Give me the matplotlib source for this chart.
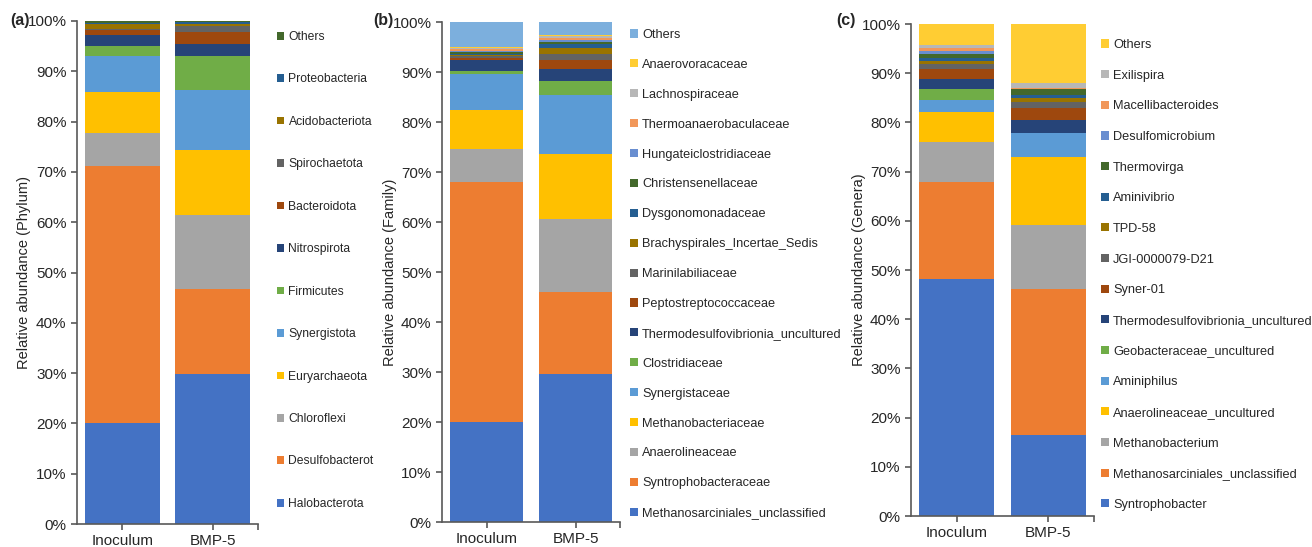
import matplotlib
matplotlib.use("Agg")
import matplotlib.pyplot as plt
from matplotlib.patches import Patch
from matplotlib.ticker import PercentFormatter
import numpy as np

plt.rcParams['font.family'] = ['Liberation Sans', 'DejaVu Sans']

samples = ["Inoculum", "BMP-5"]

# office-style palette, in stacking order
palette = ["#4472C4", "#ED7D31", "#A5A5A5", "#FFC000", "#5B9BD5", "#70AD47",
           "#264478", "#9E480E", "#636363", "#997300", "#255E91", "#43682B",
           "#698ED0", "#F1975A", "#B7B7B7", "#FFCD33", "#7CAFDD"]

# (a) phylum level, bottom to top
phylum_names = ["Halobacterota", "Desulfobacterot", "Chloroflexi", "Euryarchaeota",
                "Synergistota", "Firmicutes", "Nitrospirota", "Bacteroidota",
                "Spirochaetota", "Acidobacteriota", "Proteobacteria", "Others"]
phylum_inoc = [20.0, 51.2, 6.6, 8.1, 7.2, 1.9, 2.2, 1.0, 0.3, 0.9, 0.2, 0.4]
phylum_bmp = [29.8, 16.9, 14.7, 13.0, 11.9, 6.7, 2.4, 2.4, 1.2, 0.5, 0.3, 0.2]

# (b) family level
family_names = ["Methanosarciniales_unclassified", "Syntrophobacteraceae", "Anaerolineaceae",
                "Methanobacteriaceae", "Synergistaceae", "Clostridiaceae",
                "Thermodesulfovibrionia_uncultured", "Peptostreptococcaceae", "Marinilabiliaceae",
                "Brachyspirales_Incertae_Sedis", "Dysgonomonadaceae", "Christensenellaceae",
                "Hungateiclostridiaceae", "Thermoanaerobaculaceae", "Lachnospiraceae",
                "Anaerovoracaceae", "Others"]
family_inoc = [20.1, 47.9, 6.6, 7.9, 7.2, 0.6, 2.2, 0.4, 0.3, 0.3, 0.2, 0.3, 0.2, 0.5, 0.2, 0.1, 5.0]
family_bmp = [29.6, 16.5, 14.5, 13.1, 11.8, 2.8, 2.4, 1.7, 1.2, 1.2, 0.8, 0.4, 0.4, 0.4, 0.3, 0.3, 2.6]

# (c) genus level
genus_names = ["Syntrophobacter", "Methanosarciniales_unclassified", "Methanobacterium",
               "Anaerolineaceae_uncultured", "Aminiphilus", "Geobacteraceae_uncultured",
               "Thermodesulfovibrionia_uncultured", "Syner-01", "JGI-0000079-D21", "TPD-58",
               "Aminivibrio", "Thermovirga", "Desulfomicrobium", "Macellibacteroides",
               "Exilispira", "Others"]
genus_inoc = [48.2, 19.7, 8.1, 6.1, 2.5, 2.2, 2.0, 2.1, 1.0, 0.6, 0.6, 0.8, 0.6, 0.6, 0.6, 4.3]
genus_bmp = [16.5, 29.6, 13.0, 13.9, 4.8, 0.1, 2.5, 2.6, 1.2, 0.7, 0.6, 1.2, 0.1, 0.1, 1.2, 11.9]

W, H = 1312, 547
fig = plt.figure(figsize=(W / 100, H / 100), dpi=100)


def px_axes(x0, x1, y_top, y_bot):
    return fig.add_axes([x0 / W, 1 - y_bot / H, (x1 - x0) / W, (y_bot - y_top) / H])


def stacked(ax, names, inoc, bmp, colors, width):
    x = np.arange(len(samples))
    vals = np.array([inoc, bmp]).T
    bottom = np.zeros(len(samples))
    handles = []
    for i, name in enumerate(names):
        ax.bar(x, vals[i], width, bottom=bottom, color=colors[i], linewidth=0)
        bottom += vals[i]
        handles.append(Patch(facecolor=colors[i], label=name))
    ax.set_xlim(-0.5, 1.5)
    ax.set_ylim(0, 100)
    ax.set_yticks(np.arange(0, 101, 10))
    ax.yaxis.set_major_formatter(PercentFormatter(decimals=0))
    ax.set_xticks([0, 1, 1.5])
    ax.set_xticklabels(samples + [""])
    for s in ["top", "right"]:
        ax.spines[s].set_visible(False)
    for s in ["left", "bottom"]:
        ax.spines[s].set_color("#595959")
        ax.spines[s].set_linewidth(1.2)
    ax.tick_params(axis="both", colors="#595959", labelcolor="#262626", labelsize=11,
                   length=4, width=1.2)
    ax.tick_params(axis="x", pad=3)
    return handles[::-1]


def legend(ax, handles, x, y, spacing, size=9.2):
    ax.legend(handles=handles, loc="upper left", bbox_to_anchor=(x / W, 1 - y / H),
              bbox_transform=fig.transFigure, frameon=False, fontsize=size,
              handlelength=0.6, handleheight=0.6, handletextpad=0.35,
              labelspacing=spacing, borderpad=0, borderaxespad=0, labelcolor="#262626")


ax_a = px_axes(77, 258, 21, 524)
h = stacked(ax_a, phylum_names, phylum_inoc, phylum_bmp, palette, 0.83)
ax_a.set_ylabel("Relative abundance (Phylum)", fontsize=10.5, color="#262626")
ax_a.yaxis.set_label_coords(-0.253, 0.5)
legend(ax_a, h, 277, 31, 2.52, size=8.7)

ax_b = px_axes(442, 620, 22, 522)
h = stacked(ax_b, family_names, family_inoc, family_bmp, palette, 0.81)
ax_b.set_ylabel("Relative abundance (Family)", fontsize=10.5, color="#262626")
ax_b.yaxis.set_label_coords(-0.255, 0.5)
legend(ax_b, h, 630, 29, 1.40)

ax_c = px_axes(911, 1094, 24, 516)
genus_colors = palette[:15] + ["#FFCD33"]
h = stacked(ax_c, genus_names, genus_inoc, genus_bmp, genus_colors, 0.82)
ax_c.set_ylabel("Relative abundance (Genera)", fontsize=10.5, color="#262626")
ax_c.yaxis.set_label_coords(-0.246, 0.5)
legend(ax_c, h, 1101, 39, 1.46)

for lab, xp in [("(a)", 10), ("(b)", 373), ("(c)", 836)]:
    fig.text(xp / W, 1 - 20 / H, lab, fontsize=11.5, fontweight="bold",
             ha="left", va="center", color="#262626")

fig.savefig("out.png", dpi=100)
